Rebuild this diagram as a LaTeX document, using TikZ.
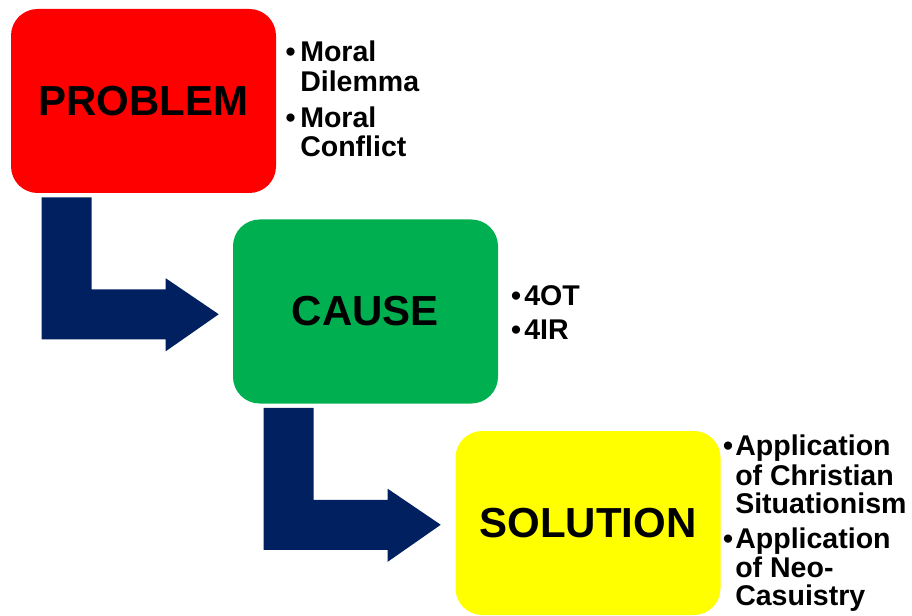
\documentclass[tikz,border=0pt]{standalone}
\usepackage{fontspec}
\setmainfont{Liberation Sans}
\definecolor{probred}{HTML}{FF0000}
\definecolor{causegreen}{HTML}{00B050}
\definecolor{solyellow}{HTML}{FFFF00}
\definecolor{navy}{HTML}{002060}
\begin{document}
\begin{tikzpicture}[x=0.75pt,y=-0.75pt,
  stage/.style={rounded corners=20pt, minimum width=198.75pt, minimum height=138pt,
    inner sep=0pt, font=\fontsize{31.5}{36}\selectfont\bfseries},
  item/.style={anchor=base west, inner sep=0pt, font=\fontsize{21.4}{26}\selectfont\bfseries},
  dot/.style={anchor=base, inner sep=0pt, font=\fontsize{21.4}{26}\selectfont\bfseries},
  bentarrow/.pic={
    \fill[navy] (31,4) -- (81,4) -- (81,96) -- (155,96) -- (155,85) -- (208,121)
      -- (155,158) -- (155,146) -- (31,146) -- cycle;
  }]
\useasboundingbox (0,0) rectangle (912,616);

% the three stages
\node[stage, fill=probred]    (problem)  at (143.5,101)  {PROBLEM};
\node[stage, fill=causegreen] (cause)    at (365.5,311.5) {CAUSE};
\node[stage, fill=solyellow]  (solution) at (588,523)    {SOLUTION};

% bent arrows leading from one stage to the next
\pic (arrowA) at (problem.south west) {bentarrow};
\pic (arrowB) at (cause.south west) {bentarrow};

% notes beside PROBLEM
\node[dot]  (pb1) at (290.5,62) {•};
\node[item] (p1)  at (300,62)  {Moral};
\node[item] (p2)  at (300,92)  {Dilemma};
\node[dot]  (pb2) at (290.5,128) {•};
\node[item] (p3)  at (300,128) {Moral};
\node[item] (p4)  at (300,157) {Conflict};

% notes beside CAUSE
\node[dot]  (cb1) at (516,305) {•};
\node[item] (c1)  at (524,305) {4OT};
\node[dot]  (cb2) at (516,339) {•};
\node[item] (c2)  at (524,339) {4IR};

% notes beside SOLUTION
\node[dot]  (sb1) at (728,455) {•};
\node[item] (s1)  at (735,455) {Application};
\node[item] (s2)  at (735,485) {of Christian};
\node[item] (s3)  at (735,513) {Situationism};
\node[dot]  (sb2) at (728,548) {•};
\node[item] (s4)  at (735,548) {Application};
\node[item] (s5)  at (735,577) {of Neo-};
\node[item] (s6)  at (735,605) {Casuistry};
\end{tikzpicture}
\end{document}
